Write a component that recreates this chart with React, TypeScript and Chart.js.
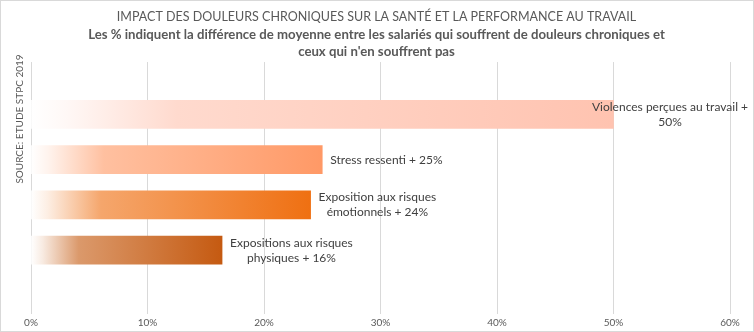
import React, { useEffect, useRef } from "react";
import { Chart, registerables } from "chart.js";

Chart.register(...registerables);

const TITLE = "IMPACT DES DOULEURS CHRONIQUES SUR LA SANTÉ ET LA PERFORMANCE AU TRAVAIL";
const SUBTITLE = [
  "Les % indiquent la différence de moyenne entre les salariés qui souffrent de douleurs chroniques et",
  "ceux qui n'en souffrent pas",
];
const AXIS_TITLE = "SOURCE: ETUDE STPC 2019";
const CATEGORIES = [
  "Violences perçues au travail",
  "Stress ressenti",
  "Exposition aux risques émotionnels",
  "Expositions aux risques physiques",
];
const VALUES = [50, 25, 24, 16.4];
const LABEL_LINES = [
  ["Violences perçues au travail +", "50%"],
  ["Stress ressenti + 25%"],
  ["Exposition aux risques", "émotionnels + 24%"],
  ["Expositions aux risques", "physiques + 16%"],
];
const END_COLORS = ["#FFC3B0", "#FF9966", "#EF7012", "#C55A11"];
const X_MIN = 0;
const X_MAX = 60;
const X_STEP = 10;

const FONT = "Lato, 'Liberation Sans', sans-serif";

function hexToRgb(h: string) {
  const n = parseInt(h.slice(1), 16);
  return [(n >> 16) & 255, (n >> 8) & 255, n & 255];
}
function mix(h: string, t: number) {
  const [r, g, b] = hexToRgb(h);
  const f = (c: number) => Math.round(255 + (c - 255) * t);
  return `rgb(${f(r)},${f(g)},${f(b)})`;
}

export default function App() {
  const ref = useRef<HTMLCanvasElement | null>(null);
  useEffect(() => {
    if (!ref.current) return;

    const labelPlugin = {
      id: "barLabels",
      afterDatasetsDraw(chart: any) {
        const ctx = chart.ctx;
        const meta = chart.getDatasetMeta(0);
        ctx.save();
        ctx.font = `12px ${FONT}`;
        ctx.fillStyle = "#404040";
        ctx.textAlign = "center";
        ctx.textBaseline = "middle";
        const lh = 15;
        meta.data.forEach((el: any, i: number) => {
          const lines = LABEL_LINES[i];
          const w = Math.max(...lines.map((l) => ctx.measureText(l).width));
          let left = el.x + 8;
          if (left + w > chart.width - 6) left = chart.width - 6 - w;
          const cx = left + w / 2;
          const top = el.y - ((lines.length - 1) * lh) / 2;
          lines.forEach((l, k) => ctx.fillText(l, cx, top + k * lh));
        });
        ctx.restore();
      },
      afterDraw(chart: any) {
        const ctx = chart.ctx;
        ctx.save();
        ctx.font = `10px ${FONT}`;
        ctx.fillStyle = "#595959";
        ctx.textAlign = "center";
        ctx.textBaseline = "middle";
        ctx.translate(20, 119);
        ctx.rotate(-Math.PI / 2);
        ctx.fillText(AXIS_TITLE, 0, 0);
        ctx.restore();
        ctx.save();
        ctx.strokeStyle = "#D9D9D9";
        ctx.lineWidth = 1;
        ctx.strokeRect(0.5, 0.5, chart.width - 1, chart.height - 1);
        ctx.restore();
      },
    };

    const chart = new Chart(ref.current, {
      type: "bar",
      data: {
        labels: CATEGORIES,
        datasets: [
          {
            data: VALUES.map((v, i) => ({ x: v, y: i })) as any,
            barThickness: 28,
            borderWidth: 0,
            backgroundColor: (c: any) => {
              const chart = c.chart;
              const area = chart.chartArea;
              const i = c.dataIndex;
              const col = END_COLORS[i] || END_COLORS[0];
              if (!area || i === undefined) return col;
              const x0 = chart.scales.x.getPixelForValue(0);
              const x1 = chart.scales.x.getPixelForValue(VALUES[i]);
              const g = chart.ctx.createLinearGradient(x0, 0, x1, 0);
              g.addColorStop(0, "rgb(255,255,255)");
              g.addColorStop(0.06, mix(col, 0.12));
              g.addColorStop(0.25, mix(col, 0.62));
              g.addColorStop(1, col);
              return g;
            },
          },
        ],
      },
      options: {
        indexAxis: "y",
        responsive: false,
        animation: false,
        devicePixelRatio: 1,
        layout: { padding: { left: 23, right: 24, top: 0, bottom: 0 } },
        scales: {
          x: {
            type: "linear",
            min: X_MIN,
            max: X_MAX,
            ticks: {
              stepSize: X_STEP,
              callback: (v: any) => v + "%",
              color: "#595959",
              font: { family: FONT, size: 10 },
              padding: 3,
            },
            grid: { color: "#D9D9D9", tickLength: 5, drawTicks: true },
            border: { display: false },
          },
          y: {
            type: "linear",
            reverse: true,
            offset: false,
            min: -1.156,
            max: 4.3,
            ticks: { display: false },
            grid: { display: false },
            border: { display: false },
            title: { display: false },
          },
        },
        plugins: {
          legend: { display: false },
          tooltip: { enabled: false },
          title: {
            display: true,
            text: TITLE,
            color: "#595959",
            font: { family: FONT, size: 12.5, weight: "normal", lineHeight: 1.2 },
            padding: { top: 9.5, bottom: 2 },
          },
          subtitle: {
            display: true,
            text: SUBTITLE,
            color: "#595959",
            font: { family: FONT, size: 13.2, weight: "bold", lineHeight: 1.29 },
            padding: { top: 0, bottom: 1.5 },
          },
        },
      } as any,
      plugins: [labelPlugin],
    });
    return () => chart.destroy();
  }, []);

  return (
    <div style={{ position: "fixed", left: 0, top: 0, width: 754, height: 332, background: "#fff" }}>
      <canvas ref={ref} width={754} height={332} style={{ display: "block" }} />
    </div>
  );
}
